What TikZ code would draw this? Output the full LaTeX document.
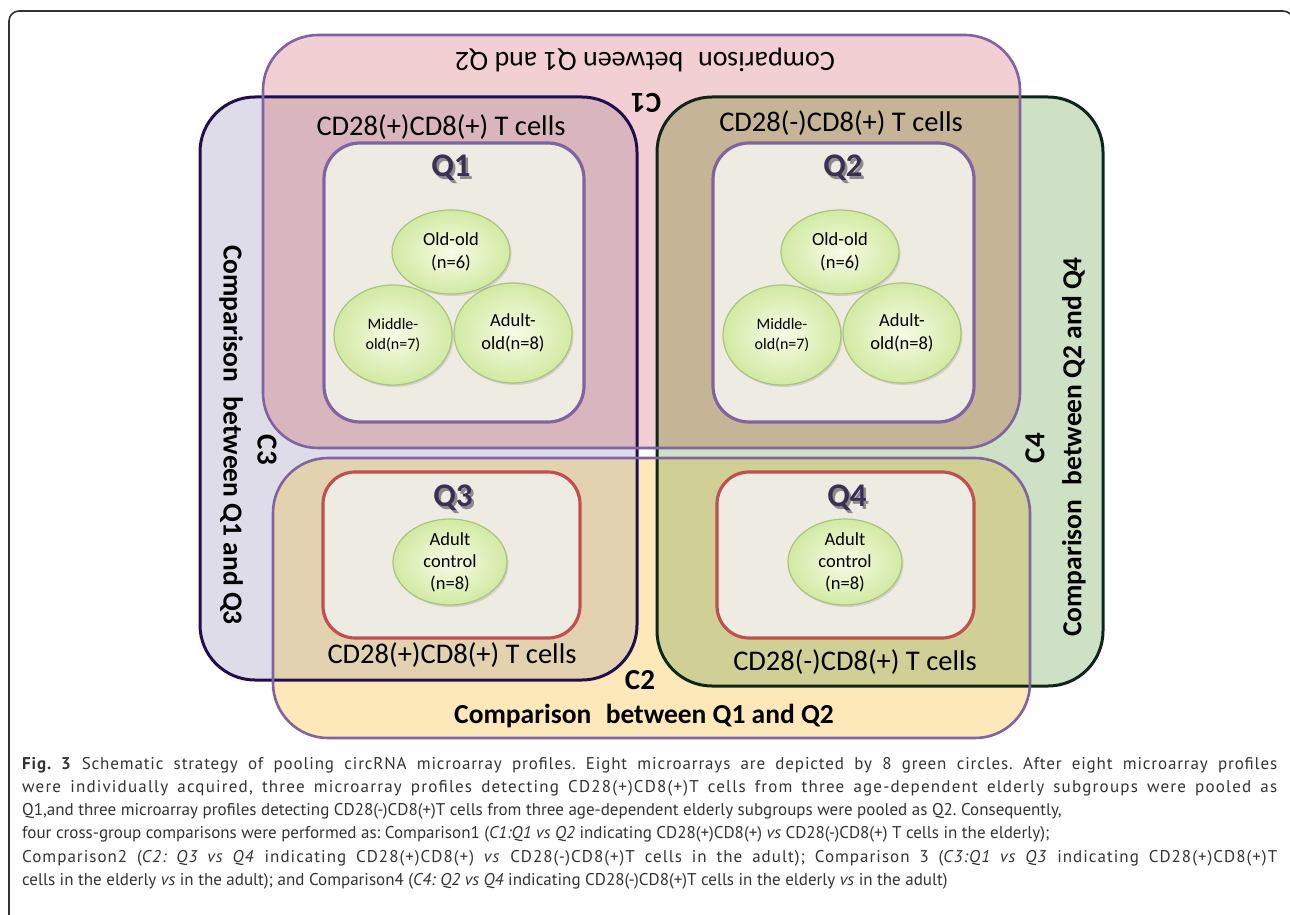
\documentclass[tikz,border=0pt]{standalone}
\usepackage{fontspec}
\setmainfont{Carlito}
\newfontfamily\capfont{PT Sans}
\usetikzlibrary{shapes.geometric,shadows}
\definecolor{cpink}{HTML}{F2CFD3}
\definecolor{clav}{HTML}{DEDCE8}
\definecolor{cgreen}{HTML}{CFE1C4}
\definecolor{cyel}{HTML}{FDE8BA}
\definecolor{cmauve}{HTML}{D9B5BE}
\definecolor{cbrown}{HTML}{C6B497}
\definecolor{ctan}{HTML}{E2D2B0}
\definecolor{colive}{HTML}{D0D096}
\definecolor{ccream}{HTML}{EEEBE2}
\definecolor{cpurple}{HTML}{8064A2}
\definecolor{cnavy}{HTML}{200F4C}
\definecolor{cdkgreen}{HTML}{0E261A}
\definecolor{cred}{HTML}{C0504D}
\definecolor{cqtext}{HTML}{3A2F55}
\definecolor{ccircb}{HTML}{A9C47F}
\definecolor{ccircin}{HTML}{F7FBE6}
\definecolor{ccircout}{HTML}{D2EAA3}
\definecolor{ccap}{HTML}{333333}
\newcommand{\cmpgap}{\hspace{0.3em}}
\newcommand{\fullline}[2]{{\addfontfeatures{LetterSpace=#1}\makebox[1255pt][s]{#2}}}
\begin{document}
\begin{tikzpicture}[x=1pt,y=-1pt,
  rc/.style={rounded corners=55pt},
  innerq/.style={fill=ccream, draw=cpurple, line width=3.2pt, rounded corners=36pt},
  innerr/.style={fill=ccream, draw=cred, line width=3.2pt, rounded corners=32pt},
  celllbl/.style={font=\fontsize{28.5}{30}\selectfont, text=black, inner sep=0pt},
  cmplbl/.style={font=\bfseries\fontsize{27.5}{29}\selectfont, text=black, inner sep=0pt},
  clbl/.style={font=\bfseries\fontsize{29}{31}\selectfont, text=black, inner sep=0pt},
  qlbl/.style={font=\bfseries\fontsize{33}{35}\selectfont, text=cqtext, inner sep=0pt},
  qshadow/.style={font=\bfseries\fontsize{33}{35}\selectfont, text=black!45, inner sep=0pt},
  grp/.style={ellipse, draw=ccircb, line width=1.2pt, inner color=ccircin, outer color=ccircout,
    align=center, inner sep=0pt, drop shadow={opacity=0.25, shadow xshift=1.5pt, shadow yshift=-2pt}},
  grptext/.style={font=\fontsize{18.5}{23}\selectfont},
  grpsmall/.style={font=\fontsize{16}{20}\selectfont}
]
\useasboundingbox (0,0) rectangle (1290,915);
\fill[white] (0,0) rectangle (1290,915);
% outer frame
\draw[line width=1.6pt, black!80, rounded corners=10pt] (9,940) -- (9,11) -- (1293,11) -- (1293,940);

% comparison regions
\fill[cpink,rc] (263,35) rectangle (1020,448);
\fill[clav,rc] (200,97) rectangle (637,680);
\fill[cgreen,rc] (657,97) rectangle (1103,686);
\fill[cyel,rc] (273,458) rectangle (1030,738);
\begin{scope}
  \clip[rc] (263,35) rectangle (1020,448);
  \fill[cmauve,rc] (200,97) rectangle (637,680);
  \fill[cbrown,rc] (657,97) rectangle (1103,686);
\end{scope}
\begin{scope}
  \clip[rc] (273,458) rectangle (1030,738);
  \fill[ctan,rc] (200,97) rectangle (637,680);
  \fill[colive,rc] (657,97) rectangle (1103,686);
\end{scope}
\draw[cnavy, line width=3pt, rc] (200,97) rectangle (637,680);
\draw[cdkgreen, line width=3pt, rc] (657,97) rectangle (1103,686);
\draw[cpurple, line width=2.6pt, rc] (263,35) rectangle (1020,448);
\draw[cpurple, line width=2.6pt, rc] (273,458) rectangle (1030,738);

% inner boxes
\draw[innerq] (324,143) rectangle (584,422);
\draw[innerq] (713,143) rectangle (974,422);
\draw[innerr] (323,472) rectangle (580,638);
\draw[innerr] (717,472) rectangle (974,638);

% comparison labels
\node[font=\fontsize{28}{29}\selectfont, inner sep=0pt, rotate=180] (c1text) at (645,60) {Comparison\cmpgap{} between Q1 and Q2};
\node[clbl, rotate=180] (c1lbl) at (646,103) {C1};
\node[cmplbl] (c2text) at (644,716) {Comparison\cmpgap{} between Q1 and Q2};
\node[clbl] (c2lbl) at (640,680) {C2};
\node[cmplbl, rotate=-90] (c3text) at (231,435) {Comparison\cmpgap{} between Q1 and Q3};
\node[clbl, rotate=-90] (c3lbl) at (267,450) {C3};
\node[cmplbl, rotate=90] (c4text) at (1074,447) {Comparison\cmpgap{} between Q2 and Q4};
\node[clbl, rotate=90] (c4lbl) at (1035,448) {C4};

% cell labels
\node[celllbl] (cellA) at (441,127) {CD28(+)CD8(+) T cells};
\node[celllbl] (cellB) at (841,123) {CD28(-)CD8(+) T cells};
\node[celllbl] (cellC) at (452,655) {CD28(+)CD8(+) T cells};
\node[celllbl] (cellD) at (855,662) {CD28(-)CD8(+) T cells};

% Q labels
\node[qshadow] (q1s) at (453.5,170.5) {Q1};
\node[qlbl] (q1) at (451,168) {Q1};
\node[qshadow] (q2s) at (845.5,170.5) {Q2};
\node[qlbl] (q2) at (843,168) {Q2};
\node[qshadow] (q3s) at (455.5,500.5) {Q3};
\node[qlbl] (q3) at (453,498) {Q3};
\node[qshadow] (q4s) at (849.5,500.5) {Q4};
\node[qlbl] (q4) at (847,498) {Q4};

% subgroup circles Q1
\node[grp, grpsmall, minimum width=118pt, minimum height=100pt] (q1mid) at (393,335) {Middle-\\old(n=7)};
\node[grp, grptext, minimum width=118pt, minimum height=100pt] (q1adu) at (513,333) {Adult-\\old(n=8)};
\node[grp, grptext, minimum width=118pt, minimum height=84pt] (q1old) at (451,252) {Old-old\\(n=6)};
% Q2
\node[grp, grpsmall, minimum width=118pt, minimum height=100pt] (q2mid) at (782,335) {Middle-\\old(n=7)};
\node[grp, grptext, minimum width=118pt, minimum height=100pt] (q2adu) at (902,333) {Adult-\\old(n=8)};
\node[grp, grptext, minimum width=118pt, minimum height=84pt] (q2old) at (840,252) {Old-old\\(n=6)};
% Q3, Q4
\node[grp, font=\fontsize{18.5}{22}\selectfont, minimum width=114pt, minimum height=86pt] (q3ad) at (450,562) {Adult\\control\\(n=8)};
\node[grp, font=\fontsize{18.5}{22}\selectfont, minimum width=114pt, minimum height=86pt] (q4ad) at (845,562) {Adult\\control\\(n=8)};

% caption
\node[anchor=north west, inner sep=0pt, text=ccap, align=left,
  font=\capfont\frenchspacing\fontsize{17}{23.2}\selectfont] (caption) at (22,757) {%
\fullline{5}{\textbf{Fig.~3} Schematic strategy of pooling circRNA microarray profiles. Eight microarrays are depicted by 8 green circles. After eight microarray profiles}\\
\fullline{7}{were individually acquired, three microarray profiles detecting CD28(+)CD8(+)T cells from three age-dependent elderly subgroups were pooled as}\\
Q1,and three microarray profiles detecting CD28(-)CD8(+)T cells from three age-dependent elderly subgroups were pooled as Q2. Consequently,\\
four cross-group comparisons were performed as: Comparison1 (\textit{C1:Q1 vs Q2} indicating CD28(+)CD8(+) \textit{vs} CD28(-)CD8(+) T cells in the elderly);\\
\fullline{6}{Comparison2 (\textit{C2: Q3 vs Q4} indicating CD28(+)CD8(+) \textit{vs} CD28(-)CD8(+)T cells in the adult); Comparison 3 (\textit{C3:Q1 vs Q3} indicating CD28(+)CD8(+)T}\\
cells in the elderly \textit{vs} in the adult); and Comparison4 (\textit{C4: Q2 vs Q4} indicating CD28(-)CD8(+)T cells in the elderly \textit{vs} in the adult)};
\end{tikzpicture}
\end{document}
